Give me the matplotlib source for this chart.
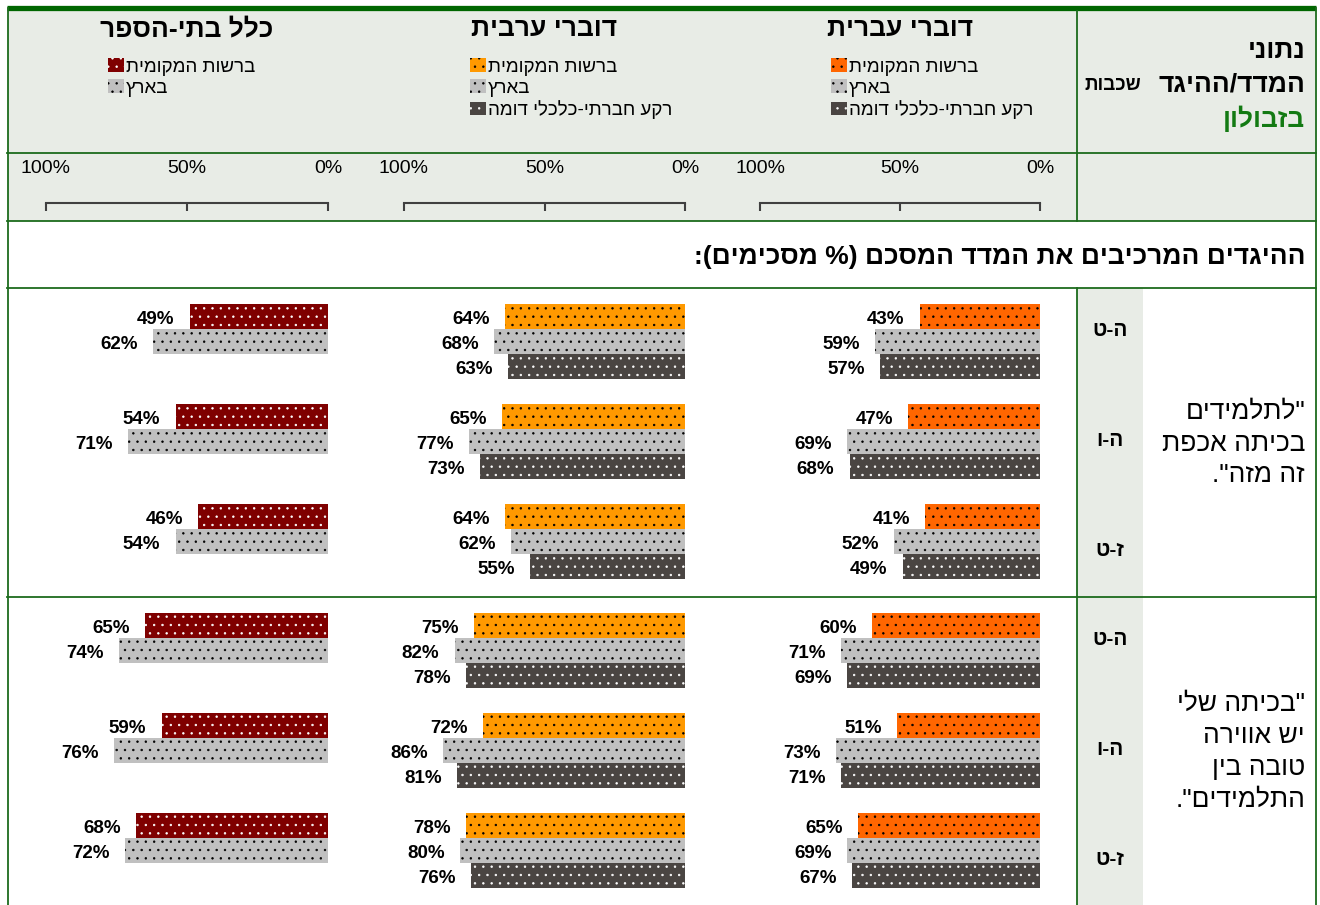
import matplotlib
matplotlib.use('Agg')
import matplotlib.pyplot as plt

plt.rcParams['font.family'] = ['Liberation Sans', 'DejaVu Sans']
plt.rcParams['hatch.linewidth'] = 0.5

# ---- data ----
panel_titles = ['דוברי עברית', 'דוברי ערבית', 'כלל בתי-הספר']
series_names = ['ברשות המקומית', 'בארץ', 'רקע חברתי-כלכלי דומה']
grades = ['ה-ט', 'ה-ו', 'ז-ט']
statements = [['"לתלמידים', 'בכיתה אכפת', 'זה מזה".'],
              ['"בכיתה שלי', 'יש אווירה', 'טובה בין', 'התלמידים".']]
heading = 'ההיגדים המרכיבים את המדד המסכם (% מסכימים):'
tick_labels = ['0%', '50%', '100%']

# % agree, one row per grade group: local authority, national, similar background
hebrew_1 = [[43, 59, 57], [47, 69, 68], [41, 52, 49]]
arabic_1 = [[64, 68, 63], [65, 77, 73], [64, 62, 55]]
all_1 = [[49, 62], [54, 71], [46, 54]]
hebrew_2 = [[60, 71, 69], [51, 73, 71], [65, 69, 67]]
arabic_2 = [[75, 82, 78], [72, 86, 81], [78, 80, 76]]
all_2 = [[65, 74], [59, 76], [68, 72]]

values = [[hebrew_1, arabic_1, all_1], [hebrew_2, arabic_2, all_2]]

# ---- style / layout (pixels) ----
W, H = 1320, 905
BG = '#e8ece6'
LINE = '#1c6b1c'
local_colors = ['#ff6600', '#ff9900', '#7f0000']
local_dots = ['black', 'black', 'white']
other_colors = ['#c0c0c0', '#4a4542']
other_dots = ['black', 'white']

panel_x = [(760, 1040), (404, 685), (46, 328)]   # x of 100% and of 0%
section_y = [(288, 597), (597, 905)]
bars_top = [304, 613]
SLOT = 25
legend_x = [831, 470, 108]


def rtl(s):
    # matplotlib has no bidi, flip hebrew into visual order by hand
    return ''.join({'(': ')', ')': '('}.get(c, c) for c in reversed(s))


fig = plt.figure(figsize=(W / 100, H / 100), dpi=100)


def px_axes(x0, x1, y0, y1):
    return fig.add_axes([x0 / W, 1 - y1 / H, (x1 - x0) / W, (y1 - y0) / H])


frame = fig.add_axes([0, 0, 1, 1])
frame.set_xlim(0, W)
frame.set_ylim(H, 0)
frame.axis('off')

# table backgrounds and borders
frame.add_patch(plt.Rectangle((8, 11), 1307, 210, color=BG, lw=0))
for y0, y1 in section_y:
    frame.add_patch(plt.Rectangle((1077, y0), 66, y1 - y0, color=BG, lw=0))

frame.plot([7, 1316], [8.5, 8.5], color='#006600', lw=3.8, solid_capstyle='butt')
for y in [153, 221, 288, 597]:
    frame.plot([7, 1316], [y, y], color=LINE, lw=1.3)
for x in [7.5, 1315.5]:
    frame.plot([x, x], [8, H], color=LINE, lw=1.3)
frame.plot([1077, 1077], [11, 221], color=LINE, lw=1.3)
frame.plot([1077, 1077], [288, H], color=LINE, lw=1.3)

# header cell on the right
frame.text(1305, 51, rtl('נתוני'), ha='right', va='center', fontsize=19, fontweight='bold')
frame.text(1305, 85, rtl('המדד/ההיגד'), ha='right', va='center', fontsize=19, fontweight='bold')
frame.text(1141, 85, rtl('שכבות'), ha='right', va='center', fontsize=13.5, fontweight='bold')
frame.text(1305, 119, rtl('בזבולון'), ha='right', va='center', fontsize=19,
           fontweight='bold', color='#137a13')

frame.text(1305, 257, rtl(heading), ha='right', va='center', fontsize=19, fontweight='bold')

# row labels
for s, (y0, y1) in enumerate(section_y):
    for g, grade in enumerate(grades):
        frame.text(1110, y0 + 42 + g * 110, rtl(grade), ha='center', va='center',
                   fontsize=15, fontweight='bold')
    lines = [rtl(t) for t in statements[s]]
    frame.text(1305, (y0 + y1) / 2 + 1, '\n'.join(lines), ha='right', va='center',
               multialignment='right', fontsize=19, linespacing=1.42)

# panel titles and scales
for p, (x100, x0) in enumerate(panel_x):
    frame.text((x100 + x0) / 2, 29, rtl(panel_titles[p]), ha='center', va='center',
               fontsize=19, fontweight='bold')
    sc = px_axes(x100, x0, 202, 203)
    sc.set_xlim(100, 0)
    sc.set_xticks([0, 50, 100], tick_labels)
    sc.set_yticks([])
    for side in ['top', 'left', 'right']:
        sc.spines[side].set_visible(False)
    sc.spines['bottom'].set_color('#404040')
    sc.spines['bottom'].set_linewidth(1.5)
    sc.patch.set_visible(False)
    sc.tick_params(axis='x', direction='out', length=6, width=1.5, color='#404040',
                   top=False, labeltop=True, labelbottom=False, pad=12, labelsize=14)

# bars
for s, sec in enumerate(values):
    for p, groups in enumerate(sec):
        x100, x0 = panel_x[p]
        ax = px_axes(x100, x0, bars_top[s], bars_top[s] + 11 * SLOT)
        ax.set_xlim(100, 0)
        ax.set_ylim(11, 0)
        ax.axis('off')
        colors = [local_colors[p]] + other_colors
        dots = [local_dots[p]] + other_dots
        handles = []
        for k in range(len(groups[0])):
            ys = [g * 4 + k + 0.5 for g in range(3)]
            vals = [grp[k] for grp in groups]
            bars = ax.barh(ys, vals, height=1.0, color=colors[k], edgecolor=dots[k],
                           lw=0, hatch='..')
            handles.append(bars)
            for y, v in zip(ys, vals):
                ax.annotate(f'{v}%', xy=(v, y), xytext=(-11, -2.5), textcoords='offset points',
                            ha='right', va='center', fontsize=13.5, fontweight='bold')
        if s == 0:
            ax.legend(handles, [rtl(n) for n in series_names[:len(handles)]],
                      loc='upper left', bbox_to_anchor=(legend_x[p] / W, 1 - 58.5 / H),
                      bbox_transform=fig.transFigure, frameon=False, fontsize=13.5,
                      handlelength=0.85, handleheight=0.75, handletextpad=0.1,
                      labelspacing=0.18, borderpad=0, borderaxespad=0)

fig.savefig('out.png', dpi=100)
